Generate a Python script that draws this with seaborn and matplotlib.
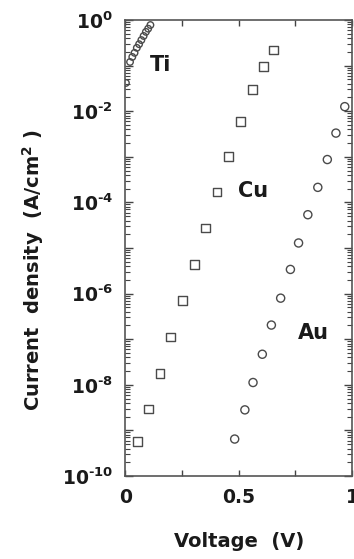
import numpy as np
import pandas as pd
import matplotlib
matplotlib.use("Agg")
import matplotlib.pyplot as plt
import matplotlib.ticker as mticker
import seaborn as sns

# Current density (A/cm^2) versus voltage (V) for three contact metals
ti_v = [0.002, 0.02, 0.03, 0.04, 0.05, 0.06, 0.07, 0.08, 0.09, 0.10, 0.11]
ti_logj = [-1.38, -0.92, -0.81, -0.72, -0.61, -0.53, -0.44, -0.35, -0.26, -0.19, -0.11]

cu_v = [0.054, 0.10, 0.152, 0.20, 0.252, 0.306, 0.353, 0.404, 0.456, 0.506, 0.559, 0.609, 0.655]
cu_logj = [-9.25, -8.53, -7.75, -6.95, -6.15, -5.36, -4.56, -3.77, -2.99, -2.23, -1.53, -1.02, -0.66]

au_v = [0.482, 0.527, 0.563, 0.604, 0.644, 0.685, 0.728, 0.764, 0.805, 0.849, 0.891, 0.929, 0.968]
au_logj = [-9.19, -8.55, -7.95, -7.33, -6.69, -6.10, -5.47, -4.89, -4.27, -3.67, -3.06, -2.48, -1.90]

metal_labels = ["Ti", "Cu", "Au"]
x_ticks = [0, 0.5, 1]
x_tick_labels = ["0", "0.5", "1"]
y_label_decades = [0, -2, -4, -6, -8, -10]

frames = []
for name, v, lj in [("Ti", ti_v, ti_logj), ("Cu", cu_v, cu_logj), ("Au", au_v, au_logj)]:
    frames.append(pd.DataFrame({"V": v, "J": np.power(10.0, lj), "metal": name}))
df = pd.concat(frames, ignore_index=True)

sns.set_theme(style="ticks")
plt.rcParams["font.family"] = ["DejaVu Sans"]
plt.rcParams["font.weight"] = "bold"
plt.rcParams["mathtext.fontset"] = "dejavusans"
plt.rcParams["mathtext.default"] = "bf"

fig = plt.figure(figsize=(3.54, 5.59), dpi=100)
ax = fig.add_axes([0.3545, 0.1485, 0.9944 - 0.3545, 0.9642 - 0.1485])

edge = "#4a4a4a"
marker_map = {"Ti": "o", "Cu": "s", "Au": "o"}
size_map = {"Ti": 22, "Cu": 40, "Au": 34}
for name in metal_labels:
    sub = df[df["metal"] == name]
    sns.scatterplot(data=sub, x="V", y="J", ax=ax, marker=marker_map[name],
                    s=size_map[name], facecolor="none", edgecolor=edge,
                    linewidth=1.0, legend=False, zorder=3)

ax.set_yscale("log")
ax.set_xlim(0, 1)
ax.set_ylim(1e-10, 1)

ax.xaxis.set_major_locator(mticker.FixedLocator(x_ticks))
ax.xaxis.set_major_formatter(mticker.FixedFormatter(x_tick_labels))
ax.xaxis.set_minor_locator(mticker.FixedLocator([0.25, 0.75]))

ax.yaxis.set_major_locator(mticker.FixedLocator([10.0 ** k for k in range(-10, 1)]))
ax.yaxis.set_minor_locator(mticker.LogLocator(base=10, subs=np.arange(2, 10), numticks=20))


def decade_label(val, pos):
    k = int(round(np.log10(val)))
    if k not in y_label_decades:
        return ""
    if k == 0:
        return r"$10^{0}$"
    # short hyphen in the exponent
    return "$10^{\u2010%d}$" % abs(k)


ax.yaxis.set_major_formatter(mticker.FuncFormatter(decade_label))
ax.yaxis.set_minor_formatter(mticker.NullFormatter())

ax.tick_params(axis="both", which="both", direction="in", top=True, right=True,
               color="#444444", labelsize=13.5, labelcolor="#1a1a1a")
ax.tick_params(axis="y", which="major", length=6, width=1.0, pad=9)
ax.tick_params(axis="y", which="minor", length=3.5, width=0.8)
ax.tick_params(axis="x", which="both", length=4.5, width=1.0)
ax.tick_params(axis="x", which="major", pad=9)

for sp in ax.spines.values():
    sp.set_color("#555555")
    sp.set_linewidth(1.2)

ax.set_xlabel("Voltage  (V)", fontsize=14, fontweight="bold", color="#1a1a1a", labelpad=18)
ax.set_ylabel("Current  density  (A/cm$^{2}$ )", fontsize=14, fontweight="bold",
              color="#1a1a1a")
ax.yaxis.set_label_coords(-0.352, 0.452)

ax.text(0.155, 10 ** -0.99, "Ti", fontsize=15, fontweight="bold", color="#1a1a1a",
        ha="center", va="center")
ax.text(0.564, 10 ** -3.76, "Cu", fontsize=15, fontweight="bold", color="#1a1a1a",
        ha="center", va="center")
ax.text(0.83, 10 ** -6.87, "Au", fontsize=15, fontweight="bold", color="#1a1a1a",
        ha="center", va="center")

fig.savefig("out.png", dpi=100)
